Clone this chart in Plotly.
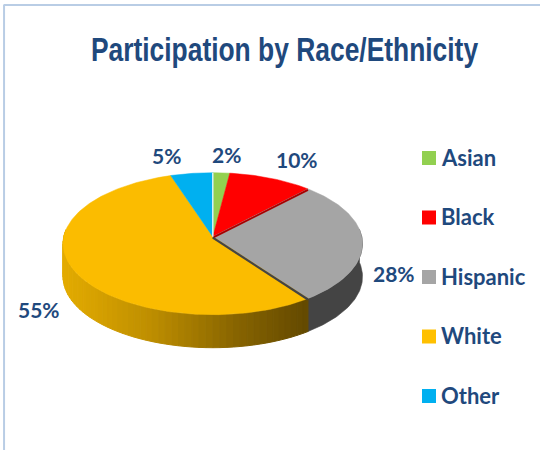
import numpy as np
import plotly.graph_objects as go

categories = ["Asian", "Black", "Hispanic", "White", "Other"]
values = [2, 10, 28, 55, 5]
colors = ["#92D050", "#FF0000", "#A5A5A5", "#FBBC00", "#00B0F0"]
swatches = ["#92D050", "#FF0000", "#A5A5A5", "#FFC000", "#00B0F0"]
title = "Participation by Race/Ethnicity"
label_pos = [(226, 154), (297, 159), (394, 273), (39, 309), (166, 155)]

INK = "#1F497D"
CX, CY, RX, RY, K, DEPTH = 212.8, 236.7, 149, 70.3, 0.0986, 33
LEG_X, LEG_TEXT_X, LEG_Y, LEG_STEP = 429, 439, 158, 59.5


def rim(theta_deg, drop=0.0):
    t = np.radians(np.asarray(theta_deg, dtype=float))
    X, Y = np.sin(t), np.cos(t)
    d = 1 + K * Y
    return CX + RX * X / d, CY - RY * Y / d + drop


def arc(a, b):
    return np.linspace(a, b, max(3, int(abs(b - a)) + 2))


def wall(a, b):
    th = arc(a, b)
    x1, y1 = rim(th)
    x2, y2 = rim(th[::-1], DEPTH)
    return np.r_[x1, x2, x1[0]], np.r_[y1, y2, y1[0]]


def mix(stops, f):
    pos = [s[0] for s in stops]
    ch = [np.interp(f, pos, [s[1][i] for s in stops]) for i in range(3)]
    return "rgb(%d,%d,%d)" % tuple(ch)


def poly(x, y, color, width=0.6, name=None):
    return go.Scatter(x=x, y=y, mode="lines", fill="toself", fillcolor=color,
                      line=dict(color=color, width=width), hoverinfo="skip",
                      showlegend=False, name=name)


edges = np.r_[0, np.cumsum(values)] * 3.6
fig = go.Figure()

# side wall, Hispanic part then White part with its shading
gray_i, white_i = categories.index("Hispanic"), categories.index("White")
fig.add_trace(poly(*wall(84, edges[gray_i + 1]), "#444444"))
stops = [(0, (228, 172, 0)), (0.35, (190, 142, 0)), (0.7, (135, 100, 0)), (1, (98, 72, 0))]
steps = np.linspace(276, edges[white_i], 56)
for a, b in zip(steps[:-1], steps[1:]):
    f = (rim([a])[0][0] - 63) / (308 - 63)
    fig.add_trace(poly(*wall(a, b), mix(stops, f), 1))

# top face
for i, name in enumerate(categories):
    x, y = rim(arc(edges[i], edges[i + 1]))
    fig.add_trace(poly(np.r_[CX, x, CX], np.r_[CY, y, CY], colors[i], 0.5, name))

# thin bevels along slice edges
for idx, col, w in [(2, "#A80000", 2), (3, "#444444", 2.2), (0, "#FFFFFF", 1), (5, "#E8F4FA", 0.8)]:
    x, y = rim([edges[idx]])
    off = 1 if idx in (2, 3) else 0
    fig.add_trace(go.Scatter(x=[CX, x[0]], y=[CY + off, y[0] + off], mode="lines",
                             line=dict(color=col, width=w), hoverinfo="skip", showlegend=False))

# key: one square per category, with its name beside it
for i, name in enumerate(categories):
    row = LEG_Y + i * LEG_STEP
    fig.add_trace(go.Scatter(x=[LEG_X], y=[row], mode="markers", name=name, showlegend=False,
                             marker=dict(symbol="square", size=14, color=swatches[i]),
                             hoverinfo="skip"))
    fig.add_annotation(x=LEG_TEXT_X, y=row - 1, text=name, showarrow=False, xanchor="left",
                       font=dict(family="Lato", size=22, color=INK, weight="bold"))

for v, (lx, ly) in zip(values, label_pos):
    fig.add_annotation(x=lx, y=ly, text=f"{v}%", showarrow=False,
                       font=dict(family="Lato", size=21, color=INK, weight="bold"))

fig.update_layout(
    width=540, height=450, autosize=False,
    margin=dict(l=0, r=0, t=0, b=0),
    paper_bgcolor="white", plot_bgcolor="white", showlegend=False,
    xaxis=dict(range=[0, 540], visible=False, fixedrange=True),
    yaxis=dict(range=[450, 0], visible=False, fixedrange=True),
    title=dict(text=title, x=0.4963, xanchor="center", y=0.889, yanchor="middle",
               font=dict(family="Liberation Sans", size=33, color=INK, weight="bold")),
    shapes=[
        dict(type="line", xref="paper", yref="paper", x0=0.0075, x1=0.0075, y0=0, y1=0.989,
             line=dict(color="#B9CDE5", width=2)),
        dict(type="line", xref="paper", yref="paper", x0=0.0065, x1=1, y0=0.989, y1=0.989,
             line=dict(color="#B9CDE5", width=2)),
    ],
)
post = """
document.body.style.margin='0';document.body.style.overflow='hidden';
var t=document.querySelector('.gtitle');
if(t){t.setAttribute('transform','translate(284.5,0) scale(0.8,1) translate(-268,0)');}
"""
fig.write_html("out.html", post_script=post, config={"displayModeBar": False})
